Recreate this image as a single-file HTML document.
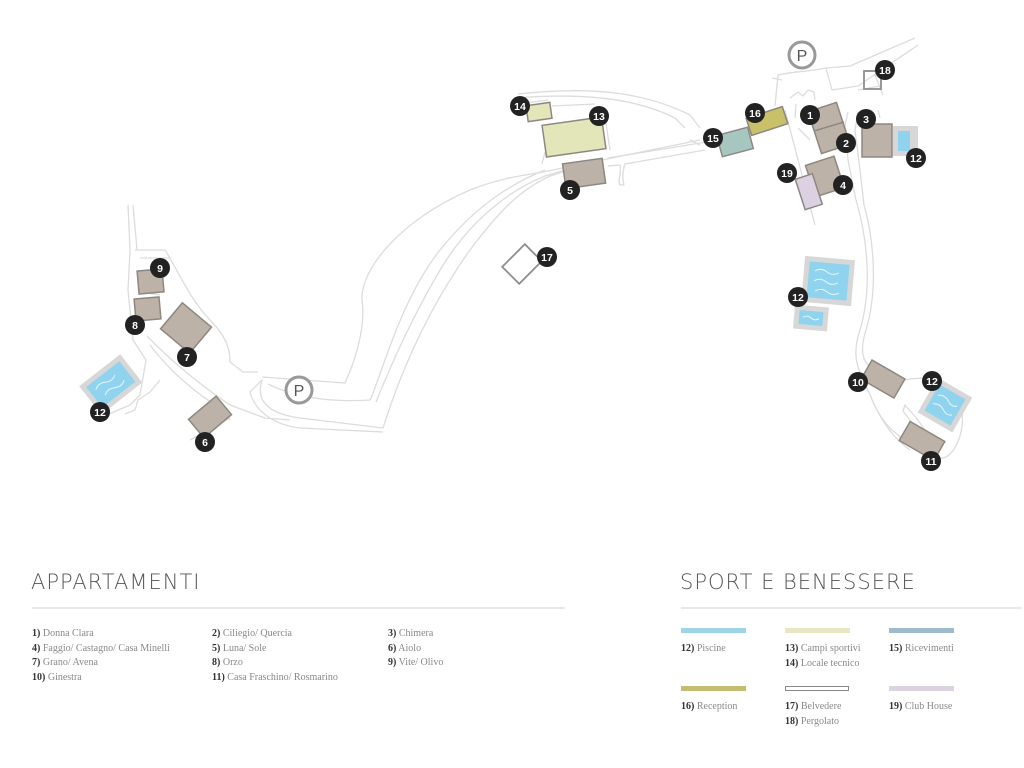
<!DOCTYPE html>
<html><head><meta charset="utf-8"><style>
body{margin:0;background:#fff;width:1024px;height:768px;overflow:hidden;font-family:"Liberation Serif",serif;}
svg{position:absolute;left:0;top:0}
.t{position:absolute;font-family:"DejaVu Sans","Liberation Sans",sans-serif;font-weight:200;color:#555;font-size:21px;letter-spacing:1px}
.l{position:absolute;font-size:10px;color:#888;line-height:14.5px;white-space:nowrap}
.l b{color:#333}
.bar{position:absolute;height:5px;width:65px}
</style></head><body>
<svg width="1024" height="768" viewBox="0 0 1024 768">
<g fill="none" stroke="#dcdcdc" stroke-width="1.3" stroke-linejoin="round">
<path d="M383,428 L300,418 C270,414 255,402 262,380 L250,392 C255,412 275,425 300,428 L383,432"/>
<path d="M262,377 L345,383 C360,350 365,320 362,300 C360,270 400,220 470,190 C500,178 525,175 543,172 L700,140"/>
<path d="M268,384 C300,400 340,402 370,400 C380,380 400,300 440,250 C480,200 520,180 545,170"/>
<path d="M376,402 C385,380 405,330 440,270 C470,220 510,190 545,176 L565,170"/>
<path d="M383,428 C395,390 420,320 470,250 C500,210 520,190 550,176 L563,172"/>
<path d="M542,164 L545,152"/><path d="M608,158 L700,143 C720,140 745,132 760,122"/>
<path d="M608,166 L620,165 C622,175 617,180 620,185 L624,185 C622,178 623,170 625,164 L705,150"/>
<path d="M518,94 C600,85 650,95 690,115 L700,128"/><path d="M516,98 C590,92 640,100 675,118 L685,128"/>
<path d="M518,104 L548,100 M552,106 L595,104 M605,117 L610,150"/>
<path d="M690,140 L700,145"/>
<path d="M775,106 L778,75 C790,72 800,72 815,70 L826,68 L850,66 L915,38"/>
<path d="M782,80 L772,78 M826,68 L832,90 L858,86 L918,45"/>
<path d="M790,98 L798,92 L803,96 L808,90 L814,92 L815,100 M796,104 L795,118"/>
<path d="M785,110 L815,225 M798,128 L810,140"/>
<path d="M848,112 L845,125 L848,160 L856,200 C868,240 872,290 860,330 C850,360 860,372 870,395 C880,420 890,430 905,440 L935,460"/>
<path d="M858,112 L855,130 L860,170 L864,205 C874,240 878,290 866,330 C858,355 865,365 875,370"/>
<path d="M858,90 L880,86 M875,75 L883,95 M860,118 L872,115 M878,110 L880,118"/>
<path d="M904,380 C930,375 960,380 962,410 C965,440 950,460 940,458"/>
<path d="M905,405 L918,420 L930,438 L925,440 L903,411 Z"/>
<path d="M870,395 C880,420 895,440 910,450"/>
<path d="M128,205 L130,250 L128,290 L133,340 L146,360 L140,395 L130,405 L95,420 M133,205 L137,250"/>
<path d="M135,250 L165,250 C175,265 190,300 210,320 C230,340 230,355 230,362 L243,372 L258,372"/>
<path d="M140,258 L170,258 M138,292 L160,295"/>
<path d="M147,336 C170,360 200,385 230,405 L265,418 L290,420"/>
<path d="M150,345 C165,365 185,385 215,405 L230,420"/>
<path d="M160,380 L150,392 L138,400 L135,410 L125,414"/>
<path d="M230,418 L190,440"/>
</g>
<g transform="rotate(-38 110 385)"><rect x="85" y="367" width="52" height="36" fill="#d7d7d7"/><rect x="90" y="372" width="42" height="26" fill="#8fd3ee"/><path d="M96,380 q6,-4 12,0 t12,0 M100,390 q6,-4 12,0 t12,0" stroke="#e8f6fc" fill="none"/></g>
<g transform="rotate(5 828 282)"><rect x="803" y="258" width="50" height="46" fill="#d7d7d7"/><rect x="808" y="263" width="40" height="36" fill="#8fd3ee"/><path d="M814,272 q6,-4 12,0 t12,0 M814,282 q6,-4 12,0 t12,0 M816,292 q6,-4 12,0 t12,0" stroke="#e8f6fc" fill="none"/></g>
<g transform="rotate(5 811 318)"><rect x="794" y="306" width="34" height="24" fill="#d7d7d7"/><rect x="799" y="311" width="24" height="14" fill="#8fd3ee"/><path d="M803,318 q4,-3 8,0 t8,0" stroke="#e8f6fc" fill="none"/></g>
<g transform="rotate(30 945 405)"><rect x="925" y="385" width="40" height="40" fill="#d7d7d7"/><rect x="930" y="390" width="30" height="30" fill="#8fd3ee"/><path d="M934,400 q6,-4 12,0 t10,0 M934,410 q6,-4 12,0 t10,0" stroke="#e8f6fc" fill="none"/></g>
<rect x="893" y="126" width="25" height="30" fill="#d7d7d7"/><rect x="898" y="131" width="12" height="20" fill="#8fd3ee"/>
<g stroke="#8e8780" stroke-width="1.5" fill="#bdb2a7">
<rect x="138" y="270" width="25" height="23" transform="rotate(-5 150 281)"/>
<rect x="135" y="298" width="25" height="22" transform="rotate(-5 147 309)"/>
<rect x="167" y="311" width="38" height="34" transform="rotate(40 186 328)"/>
<rect x="192" y="405" width="36" height="24" transform="rotate(-40 210 417)"/>
<rect x="564" y="161" width="40" height="25" transform="rotate(-8 584 173)"/>
<rect x="814" y="106" width="30" height="44" transform="rotate(-18 829 128)"/>
<path d="M814,131 L844,122" fill="none"/>
<rect x="862" y="124" width="30" height="33"/>
<rect x="810" y="160" width="30" height="33" transform="rotate(-18 825 177)"/>
<rect x="864" y="368" width="38" height="22" transform="rotate(30 883 379)"/>
<rect x="902" y="430" width="40" height="22" transform="rotate(30 922 441)"/>
</g>
<rect x="796" y="170" width="18" height="32" transform="rotate(-18 825 177)" fill="#dcd1e2" stroke="#8e8780" stroke-width="1.5"/>
<rect x="527" y="104" width="24" height="16" transform="rotate(-8 539 112)" fill="#e3e6b9" stroke="#8e8780" stroke-width="1.5"/>
<rect x="544" y="121" width="60" height="32" transform="rotate(-8 574 137)" fill="#e3e6b9" stroke="#8e8780" stroke-width="1.5"/>
<rect x="719" y="131" width="32" height="22" transform="rotate(-15 735 142)" fill="#a6c7c0" stroke="#8e8780" stroke-width="1.5"/>
<rect x="748" y="112" width="38" height="18" transform="rotate(-18 767 121)" fill="#c9c06a" stroke="#8e8780" stroke-width="1.5"/>
<rect x="506" y="252" width="32" height="24" transform="rotate(-45 522 264)" fill="none" stroke="#8e8e8e" stroke-width="1.8"/>
<rect x="864" y="71" width="17" height="18" fill="none" stroke="#8e8e8e" stroke-width="1.8"/>
<g fill="#fff" stroke="#999" stroke-width="3"><circle cx="802" cy="55" r="13"/><circle cx="299" cy="390" r="13"/></g>
<g font-family="Liberation Sans,sans-serif" font-size="16" fill="#555" text-anchor="middle"><text x="802" y="61">P</text><text x="299" y="396">P</text></g>
<g fill="#222"><circle cx="520" cy="106" r="10"/><circle cx="599" cy="116" r="10"/><circle cx="570" cy="190" r="10"/><circle cx="547" cy="257" r="10"/><circle cx="713" cy="138" r="10"/><circle cx="755" cy="113" r="10"/><circle cx="885" cy="70" r="10"/><circle cx="810" cy="115" r="10"/><circle cx="846" cy="143" r="10"/><circle cx="866" cy="119" r="10"/><circle cx="916" cy="158" r="10"/><circle cx="787" cy="173" r="10"/><circle cx="843" cy="185" r="10"/><circle cx="798" cy="297" r="10"/><circle cx="858" cy="382" r="10"/><circle cx="932" cy="381" r="10"/><circle cx="931" cy="461" r="10"/><circle cx="160" cy="268" r="10"/><circle cx="135" cy="325" r="10"/><circle cx="187" cy="357" r="10"/><circle cx="205" cy="442" r="10"/><circle cx="100" cy="412" r="10"/></g>
<g font-family="Liberation Sans,sans-serif" font-size="10.5" font-weight="bold" fill="#fff" text-anchor="middle">
<text x="520" y="110">14</text><text x="599" y="120">13</text><text x="570" y="194">5</text><text x="547" y="261">17</text><text x="713" y="142">15</text><text x="755" y="117">16</text><text x="885" y="74">18</text><text x="810" y="119">1</text><text x="846" y="147">2</text><text x="866" y="123">3</text><text x="916" y="162">12</text><text x="787" y="177">19</text><text x="843" y="189">4</text><text x="798" y="301">12</text><text x="858" y="386">10</text><text x="932" y="385">12</text><text x="931" y="465">11</text><text x="160" y="272">9</text><text x="135" y="329">8</text><text x="187" y="361">7</text><text x="205" y="446">6</text><text x="100" y="416">12</text></g>
<line x1="32" y1="608" x2="565" y2="608" stroke="#e0e0e0" stroke-width="1.5"/>
<line x1="681" y1="608" x2="1022" y2="608" stroke="#e0e0e0" stroke-width="1.5"/>
</svg>
<div class="t" style="left:31px;top:570px">APPARTAMENTI</div>
<div class="t" style="left:680px;top:570px">SPORT E BENESSERE</div>
<div class="l" style="left:32px;top:627px"><b>1)</b> Donna Clara<br><b>4)</b> Faggio/ Castagno/ Casa Minelli<br><b>7)</b> Grano/ Avena<br><b>10)</b> Ginestra</div>
<div class="l" style="left:212px;top:627px"><b>2)</b> Ciliegio/ Quercia<br><b>5)</b> Luna/ Sole<br><b>8)</b> Orzo<br><b>11)</b> Casa Fraschino/ Rosmarino</div>
<div class="l" style="left:388px;top:627px"><b>3)</b> Chimera<br><b>6)</b> Aiolo<br><b>9)</b> Vite/ Olivo</div>
<div class="bar" style="left:681px;top:628px;background:#9fd3e8"></div>
<div class="bar" style="left:785px;top:628px;background:#e6e8c4"></div>
<div class="bar" style="left:889px;top:628px;background:#9dbccb"></div>
<div class="l" style="left:681px;top:642px"><b>12)</b> Piscine</div>
<div class="l" style="left:785px;top:642px"><b>13)</b> Campi sportivi<br><b>14)</b> Locale tecnico</div>
<div class="l" style="left:889px;top:642px"><b>15)</b> Ricevimenti</div>
<div class="bar" style="left:681px;top:686px;background:#c2bd70"></div>
<div class="bar" style="left:785px;top:686px;height:3px;width:62px;border:1.5px solid #888;background:#fff"></div>
<div class="bar" style="left:889px;top:686px;background:#dcd3e0"></div>
<div class="l" style="left:681px;top:700px"><b>16)</b> Reception</div>
<div class="l" style="left:785px;top:700px"><b>17)</b> Belvedere<br><b>18)</b> Pergolato</div>
<div class="l" style="left:889px;top:700px"><b>19)</b> Club House</div>
</body></html>
